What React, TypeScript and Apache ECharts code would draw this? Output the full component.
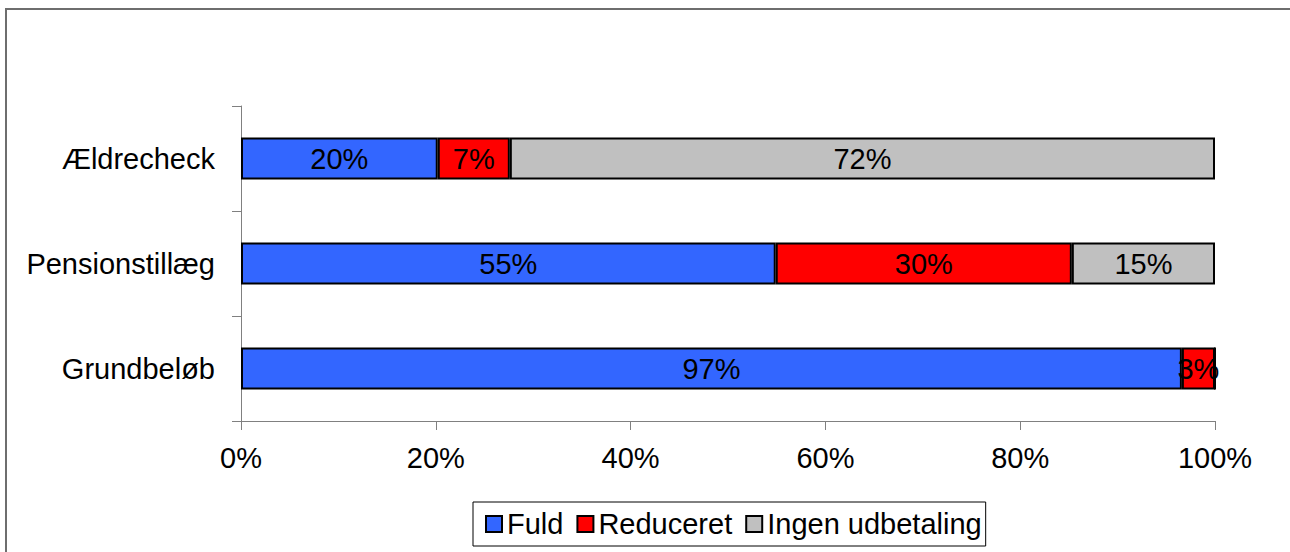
import React, { useEffect, useRef } from "react";
import * as echarts from "echarts";

const categories = ["Grundbeløb", "Pensionstillæg", "Ældrecheck"];
const seriesNames = ["Fuld", "Reduceret", "Ingen udbetaling"];
const fuld = [96.6, 54.9, 20.2];
const reduceret = [3.4, 30.4, 7.4];
const ingen = [0, 14.7, 72.4];
const xTicks = { min: 0, max: 100, interval: 20 };
const colors = ["#3366FF", "#FF0000", "#C0C0C0"];

const FONT = "'Liberation Sans', Arial, Helvetica, sans-serif";

export default function App() {
  const ref = useRef<HTMLDivElement>(null);
  useEffect(() => {
    if (!ref.current) return;
    const chart = echarts.init(ref.current, null, { renderer: "svg" });
    const values = [fuld, reduceret, ingen];
    chart.setOption({
      animation: false,
      backgroundColor: "#ffffff",
      textStyle: { fontFamily: FONT },
      graphic: [
        {
          type: "polyline",
          shape: { points: [[6, 600], [6, 9], [1300, 9]] },
          style: { fill: "none", stroke: "#6e6e6e", lineWidth: 2 },
          silent: true,
          z: -10,
        },
      ],
      grid: { left: 241, right: 75, top: 106, bottom: 131, containLabel: false },
      legend: {
        data: seriesNames,
        left: 473,
        top: 502,
        orient: "horizontal",
        padding: [5, 4, 5, 12],
        itemGap: 13,
        itemWidth: 16,
        itemHeight: 16,
        borderColor: "#000000",
        borderWidth: 1,
        icon: "rect",
        itemStyle: { borderColor: "#000000", borderWidth: 2 },
        textStyle: { fontSize: 29, color: "#000", fontFamily: FONT, lineHeight: 34 },
      },
      xAxis: {
        type: "value",
        min: xTicks.min,
        max: xTicks.max,
        interval: xTicks.interval,
        axisLine: { show: true, lineStyle: { color: "#808080", width: 1 } },
        axisTick: { show: true, length: 9, lineStyle: { color: "#808080" } },
        splitLine: { show: false },
        axisLabel: {
          formatter: "{value}%",
          fontSize: 29,
          color: "#000",
          fontFamily: FONT,
          margin: 22,
          lineHeight: 29,
        },
      },
      yAxis: {
        type: "category",
        data: categories,
        axisLine: { show: true, lineStyle: { color: "#808080", width: 1 } },
        axisTick: { show: true, length: 9, lineStyle: { color: "#808080" } },
        axisLabel: { fontSize: 29, color: "#000", fontFamily: FONT, margin: 26 },
      },
      series: seriesNames.map((name, i) => ({
        name,
        type: "bar",
        stack: "total",
        barWidth: "40%",
        data: values[i],
        itemStyle: { color: colors[i], borderColor: "#000000", borderWidth: 2 },
        label: {
          show: true,
          position: "inside",
          fontSize: 29,
          color: "#000",
          fontFamily: FONT,
          formatter: (p: any) => (p.value > 0 ? Math.round(p.value) + "%" : ""),
        },
      })),
    });
    return () => chart.dispose();
  }, []);
  return (
    <div
      ref={ref}
      style={{ position: "absolute", left: 0, top: 0, width: 1290, height: 552 }}
    />
  );
}
